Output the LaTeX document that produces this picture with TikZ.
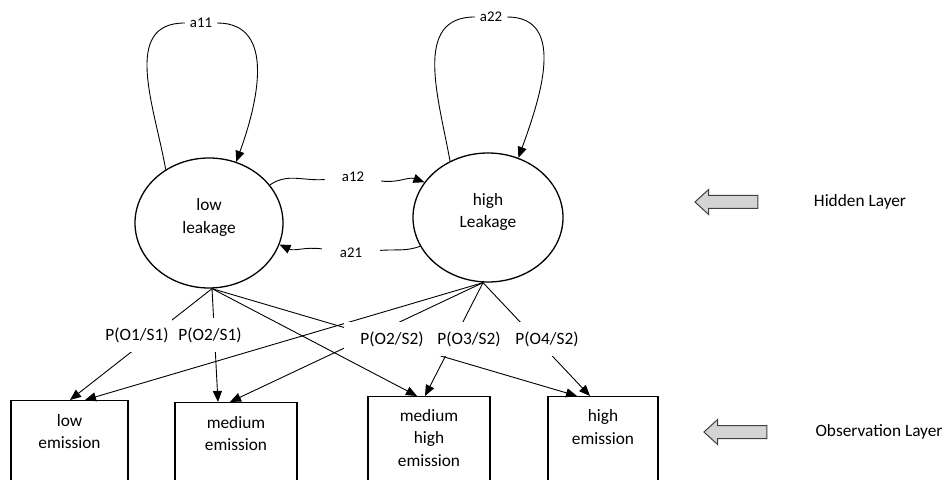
\documentclass[tikz,border=0pt]{standalone}
\usepackage{fontspec}
\setmainfont{Carlito}
\usetikzlibrary{shapes.geometric,shapes.arrows,arrows.meta,positioning}
\begin{document}
\begin{tikzpicture}[x=1pt, y=1pt, >={Triangle[length=11pt,width=9pt]}]
  \tikzstyle{every node}=[font=\fontsize{17.3}{22.5}\selectfont]
  \tikzstyle{state}=[ellipse, draw=black, line width=1.3pt, align=center, text depth=14pt]
  \tikzstyle{obs}=[rectangle, draw=black, line width=1.3pt, anchor=north, minimum height=100pt]
  \tikzstyle{prob}=[fill=white, inner xsep=3pt, inner ysep=9pt]
  \tikzstyle{trans}=[inner xsep=5pt, inner ysep=4pt, font=\fontsize{14.8}{17}\selectfont]
  \tikzstyle{layer}=[single arrow, shape border rotate=180, draw=black!75, fill=black!17, line width=1pt, minimum height=63pt, inner xsep=0pt, inner ysep=6pt, single arrow head extend=6pt, single arrow tip angle=85]
  \tikzstyle{link}=[->, line width=0.9pt]
  \useasboundingbox (0,0) rectangle (952,479);
    \node[state, minimum width=148pt, minimum height=130pt] (S1) at (209,256) {low\\leakage};
    \node[state, minimum width=150pt, minimum height=129pt] (S2) at (488,261.5) {high\\Leakage};
    \node[obs, minimum width=117pt] (O1) at (69.5,79) {};
    \node[obs, minimum width=122pt] (O2) at (236,77) {};
    \node[obs, minimum width=122pt] (O3) at (429,83) {};
    \node[obs, minimum width=110pt] (O4) at (603,83) {};
    \node[align=center] (O1t) at ([yshift=-31.5pt]O1.north) {low\\emission};
    \node[align=center] (O2t) at ([yshift=-31.5pt]O2.north) {medium\\emission};
    \node[align=center] (O3t) at ([yshift=-42pt]O3.north) {medium\\high\\emission};
    \node[align=center] (O4t) at ([yshift=-31pt]O4.north) {high\\emission};
    \node[trans] (t11) at (201,456) {a11};
    \node[trans] (t22) at (491,462) {a22};
    \node[trans, inner xsep=17pt] (t12) at (353,302) {a12};
    \node[trans, inner xsep=18pt] (t21) at (351,226) {a21};
    \coordinate (s1b) at ([xshift=3pt]S1.south);
    \coordinate (s2b) at ([xshift=-5pt]S2.south);
    \draw[line width=0.9pt] (S1.129) to[out=100, in=180, looseness=1.1] (t11);
    \draw[link] (t11) to[out=0, in=70, looseness=1.1] (S1.66);
    \draw[line width=0.9pt] (S2.124) to[out=100, in=180, looseness=1.1] (t22);
    \draw[link] (t22) to[out=0, in=70, looseness=1.1] (S2.63);
    \draw[line width=0.9pt] (S1.32) to[out=35, in=185] (t12);
    \draw[link] (t12) to[out=-8, in=160] (S2.151);
    \draw[line width=0.9pt] (S2.203) to[out=200, in=5] (t21);
    \draw[link] (t21) to[out=172, in=-25] (S1.343);
    \draw[link] (s1b) -- ([xshift=0.5pt]O1.north);
    \draw[link] (s1b) -- ([xshift=-18pt]O2.north);
    \draw[link] (s1b) -- ([xshift=-12pt]O3.north);
    \draw[link] (s1b) -- ([xshift=-26pt]O4.north);
    \draw[link] (s2b) -- ([xshift=15.5pt]O1.north);
    \draw[link] (s2b) -- ([xshift=-6pt]O2.north);
    \draw[link] (s2b) -- ([xshift=-4pt]O3.north);
    \draw[link] (s2b) -- ([xshift=-13pt]O4.north);
    \node[prob] (p11) at (137,144) {P(O1/S1)};
    \node[prob] (p21) at (210,144) {P(O2/S1)};
    \node[prob, inner xsep=16pt] (p22) at (392,140) {P(O2/S2)};
    \node[prob] (p32) at (469,140) {P(O3/S2)};
    \node[prob] (p42) at (547,140) {P(O4/S2)};
    \node[layer] (hidarr) at (730,277) {};
    \node (hid) at (860,277) {Hidden Layer};
    \node[layer] (obsarr) at (739,47) {};
    \node[anchor=west] (obsl) at (812,47) {Observation Layer};
  \end{tikzpicture}
\end{document}
